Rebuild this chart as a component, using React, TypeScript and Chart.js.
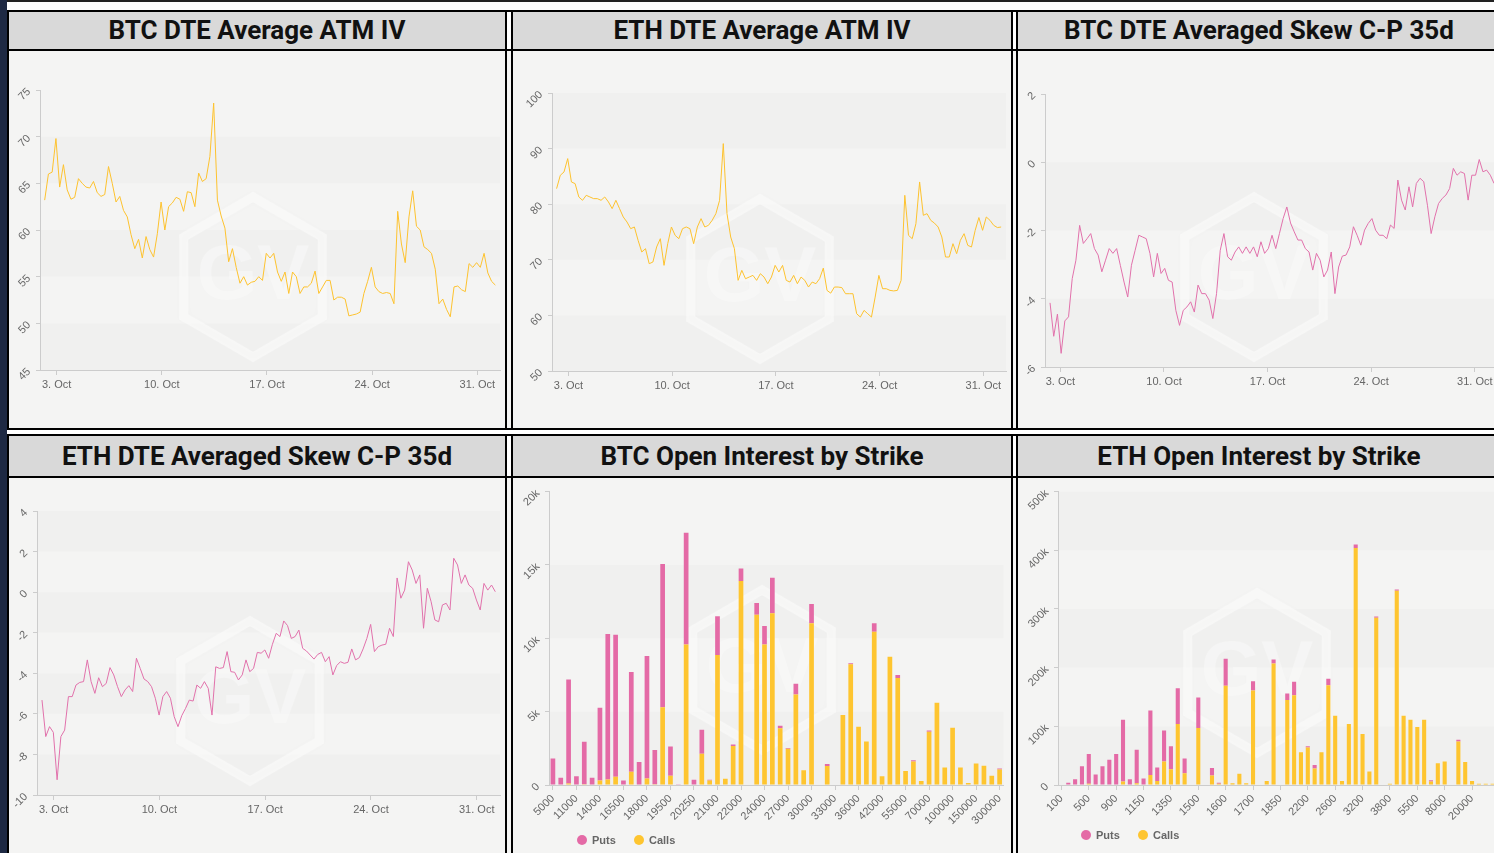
import React, { useEffect, useRef } from 'react';
import { Chart, registerables } from 'chart.js';

Chart.register(...registerables);

// ---------------- data ----------------
const dayTickValues = [3, 10, 17, 24, 31];
const dayTickLabels = ['3. Oct', '10. Oct', '17. Oct', '24. Oct', '31. Oct'];
const sampleStepDays = 0.25;

const btcIvStartDay = 2.2;
const btcIv = [
  63.2, 66.0, 66.2, 69.8, 64.6, 67.0, 64.3, 63.3, 63.5, 65.5,
  65.0, 64.6, 64.5, 65.2, 64.0, 63.6, 63.8, 66.8, 65.0, 63.0,
  63.6, 62.1, 61.4, 59.5, 58.0, 59.0, 57.0, 59.3, 57.9, 57.1,
  59.6, 63.0, 60.0, 62.5, 62.9, 63.5, 63.3, 62.0, 64.1, 64.0,
  62.5, 66.1, 65.2, 65.5, 67.9, 73.6, 63.2, 61.5, 60.2, 56.6,
  58.0, 56.0, 54.3, 55.0, 54.1, 54.4, 54.5, 55.0, 54.6, 57.5,
  57.0, 57.5, 55.5, 54.5, 55.5, 53.2, 55.5, 55.0, 53.2, 53.9,
  53.9, 54.3, 55.6, 53.2, 53.9, 54.6, 54.6, 52.5, 52.8, 52.8,
  52.6, 50.8, 50.9, 51.0, 51.2, 53.2, 54.5, 56.0, 53.9, 53.4,
  53.2, 53.3, 53.2, 52.1, 62.0, 58.5, 56.5, 61.4, 64.2, 60.4,
  60.0, 58.2, 57.9, 57.5, 55.8, 52.1, 52.6, 51.5, 50.7, 53.9,
  54.0, 53.6, 53.4, 56.4, 56.0, 56.5, 56.0, 57.5, 55.4, 54.5,
  54.1,
];

const ethIvStartDay = 2.2;
const ethIv = [
  82.8, 85.2, 85.8, 88.2, 84.0, 83.7, 81.3, 80.7, 81.6, 81.3,
  81.0, 81.0, 80.7, 81.3, 80.4, 79.2, 80.7, 79.2, 77.7, 76.8,
  75.6, 75.9, 73.5, 71.4, 72.0, 69.3, 69.6, 72.3, 73.8, 69.0,
  72.9, 75.9, 74.4, 73.8, 75.6, 75.9, 75.6, 72.9, 75.9, 77.4,
  75.9, 76.2, 77.1, 78.3, 80.7, 90.9, 78.3, 74.1, 72.0, 66.3,
  68.1, 66.6, 66.9, 67.2, 66.3, 67.5, 66.9, 65.7, 66.9, 69.0,
  67.8, 69.0, 66.3, 66.0, 67.2, 65.7, 66.9, 66.3, 65.1, 66.0,
  65.7, 66.6, 68.5, 64.5, 64.0, 65.1, 65.1, 65.0, 63.9, 63.9,
  63.9, 60.3, 59.7, 60.9, 60.3, 59.7, 63.3, 67.2, 64.8, 64.8,
  64.5, 64.4, 64.5, 66.3, 81.6, 74.4, 73.8, 76.5, 84.0, 78.0,
  78.3, 77.1, 76.6, 75.9, 74.1, 70.5, 70.5, 72.9, 71.1, 73.5,
  74.7, 72.6, 72.3, 75.3, 77.6, 75.3, 77.7, 77.1, 76.2, 75.8,
  75.9,
];

const btcSkewStartDay = 2.3;
const btcSkew = [
  -4.12, -5.1, -4.45, -5.6, -4.65, -4.53, -3.41, -2.87, -1.85, -2.38,
  -2.24, -2.09, -2.53, -2.72, -3.21, -2.87, -2.53, -2.67, -2.53, -3.02,
  -3.51, -3.95, -3.02, -2.58, -2.14, -2.19, -2.24, -2.67, -3.36, -2.67,
  -3.26, -3.11, -3.46, -3.51, -4.34, -4.78, -4.34, -4.24, -4.09, -4.39,
  -3.6, -3.85, -3.85, -4.04, -4.58, -3.85, -2.58, -2.09, -2.77, -2.87,
  -2.63, -2.48, -2.67, -2.48, -2.67, -2.48, -2.77, -2.33, -2.67, -2.53,
  -2.14, -2.53, -2.09, -1.65, -1.31, -1.78, -2.04, -2.28, -2.28, -2.53,
  -2.63, -3.16, -2.67, -2.87, -3.36, -3.16, -2.63, -3.85, -3.07, -2.75,
  -2.72, -2.48, -1.89, -2.14, -2.43, -1.99, -1.79, -1.65, -1.99, -2.14,
  -2.14, -2.24, -1.84, -1.94, -0.52, -1.11, -1.4, -0.72, -1.31, -0.62,
  -0.47, -0.57, -1.26, -2.09, -1.6, -1.21, -1.06, -0.96, -0.77, -0.18,
  -0.38, -0.28, -0.33, -1.11, -0.38, -0.38, 0.08, -0.28, -0.23, -0.38,
  -0.62,
];

const ethSkewStartDay = 2.23;
const ethSkew = [
  -5.32, -7.12, -6.63, -6.91, -9.25, -7.12, -6.8, -5.15, -5.15, -4.58,
  -4.45, -4.41, -3.34, -4.41, -4.99, -4.22, -4.66, -4.5, -3.72, -4.08,
  -4.66, -5.15, -4.82, -4.61, -4.9, -3.26, -3.76, -4.28, -4.41, -4.66,
  -5.23, -6.06, -5.15, -4.9, -5.23, -6.14, -6.63, -6.09, -5.73, -5.32,
  -5.37, -4.58, -4.74, -4.41, -4.74, -6.06, -3.68, -3.76, -3.72, -2.93,
  -3.92, -3.95, -4.33, -4.08, -3.34, -3.92, -3.76, -2.97, -3.01, -2.85,
  -3.26, -2.57, -2.03, -2.19, -1.42, -1.65, -2.28, -2.19, -1.87, -2.77,
  -2.9, -3.1, -3.3, -3.07, -2.97, -3.43, -3.18, -4.08, -3.62, -3.43,
  -3.51, -3.46, -2.8, -3.34, -3.23, -2.8, -2.28, -1.59, -2.93, -2.69,
  -2.61, -2.57, -1.78, -2.19, 0.7, -0.3, 0.1, 1.5, 1.09, 0.43,
  0.85, -1.78, 0.19, -0.47, -1.37, -1.46, -0.63, -0.55, -0.88, 1.67,
  1.34, 0.43, 0.85, 0.35, 0.19, -0.39, -0.88, 0.43, 0.1, 0.35,
  0.02,
];

const btcStrikes = [
  '5000', '8000', '10000', '11000', '12000', '13000', '14000', '15000', '16000', '16500',
  '17000', '17500', '18000', '18500', '19000', '19500', '19750', '20000', '20250', '20500',
  '20750', '21000', '21250', '21500', '22000', '22500', '23000', '24000', '25000', '26000',
  '27000', '28000', '29000', '30000', '31000', '32000', '33000', '34000', '35000', '36000',
  '38000', '40000', '42000', '45000', '50000', '55000', '60000', '65000', '70000', '80000',
  '90000', '100000', '120000', '140000', '150000', '200000', '250000', '300000',
];
const btcCalls = [
  0, 0, 100, 0, 50, 0, 300, 380, 560, 0,
  900, 0, 450, 50, 5300, 630, 0, 9570, 0, 2130,
  300, 8860, 430, 2650, 13900, 0, 11600, 9570, 11700, 3860,
  2470, 6170, 1000, 11030, 0, 1300, 0, 4780, 8230, 3970,
  2960, 10450, 600, 8740, 7300, 960, 1610, 270, 3630, 5600,
  1190, 3900, 1190, 130, 1460, 1320, 630, 1050,
];
const btcPuts = [
  1800, 500, 7100, 600, 2900, 500, 4970, 9920, 9690, 300,
  6800, 1570, 8350, 2330, 9770, 1990, 50, 7630, 360, 1640,
  60, 2640, 0, 110, 850, 0, 800, 1260, 2430, 180,
  60, 730, 0, 1300, 0, 130, 0, 0, 70, 0,
  0, 580, 0, 0, 190, 0, 70, 0, 90, 0,
  0, 0, 0, 0, 0, 0, 0, 70,
];

const ethStrikes = [
  '100', '200', '300', '400', '500', '600', '700', '800', '900', '1000',
  '1050', '1100', '1150', '1200', '1250', '1300', '1350', '1400', '1450', '1475',
  '1500', '1525', '1550', '1575', '1600', '1625', '1650', '1675', '1700', '1725',
  '1750', '1800', '1850', '1900', '2000', '2100', '2200', '2300', '2400', '2500',
  '2600', '2700', '2800', '3000', '3200', '3400', '3500', '3600', '3800', '4000',
  '4500', '5000', '5500', '6000', '6500', '7000', '8000', '9000', '10000', '15000',
  '20000', '25000', '30000', '40000',
];
const ethCalls = [
  0, 0, 0, 0, 2000, 0, 0, 0, 0, 6000,
  0, 3000, 0, 17000, 7000, 40000, 27000, 104000, 20000, 0,
  97000, 0, 16000, 2000, 169000, 3000, 19000, 3000, 161000, 1000,
  7000, 207000, 0, 145000, 153000, 56000, 64000, 28000, 56000, 170000,
  118000, 7000, 104000, 404000, 87000, 23000, 285000, 1000, 2000, 331000,
  118000, 111000, 99000, 111000, 6000, 37000, 40000, 1000, 74000, 39000,
  7000, 2000, 2000, 2000,
];
const ethPuts = [
  0, 4000, 10000, 32000, 51000, 18000, 32000, 43000, 53000, 105000,
  10000, 57000, 11000, 110000, 23000, 53000, 39000, 61000, 25000, 1000,
  52000, 1000, 13000, 2000, 46000, 0, 0, 0, 16000, 0,
  0, 7000, 0, 11000, 23000, 0, 2000, 6000, 0, 11000,
  0, 0, 0, 6000, 0, 0, 2000, 0, 0, 2000,
  0, 0, 0, 0, 2000, 0, 0, 0, 3000, 0,
  0, 0, 0, 0,
];

// ---------------- styles ----------------
const IV_COLOR = '#fdc22e';
const SKEW_COLOR = '#e171ab';
const CALLS_COLOR = '#fec530';
const PUTS_COLOR = '#e46aa6';
const TICK_FONT = { family: '"Liberation Sans", Arial, sans-serif', size: 11 };
const TICK_COLOR = '#666666';
const AXIS_COLOR = '#cccccc';

const bgPlugin = {
  id: 'bgBands',
  beforeDraw(chart: any, _args: any, opts: any) {
    const { ctx, chartArea } = chart;
    const y = chart.scales.y;
    const vals = y.ticks.map((t: any) => t.value).sort((a: number, b: number) => a - b);
    ctx.save();
    ctx.fillStyle = 'rgba(0,0,0,0.014)';
    for (let k = 0; k < vals.length - 1; k += 2) {
      const y0 = y.getPixelForValue(vals[k]);
      const y1 = y.getPixelForValue(vals[k + 1]);
      ctx.fillRect(chartArea.left, Math.min(y0, y1), chartArea.right - chartArea.left, Math.abs(y1 - y0));
    }
    // watermark
    const cx = opts.cx;
    const cy = opts.cy;
    const hex = (r: number) => {
      ctx.beginPath();
      for (let i = 0; i < 6; i++) {
        const a = ((-90 + 60 * i) * Math.PI) / 180;
        const px = cx + r * Math.cos(a);
        const py = cy + r * Math.sin(a);
        if (i === 0) ctx.moveTo(px, py);
        else ctx.lineTo(px, py);
      }
      ctx.closePath();
    };
    ctx.shadowColor = 'rgba(0,0,0,0.03)';
    ctx.shadowBlur = 6;
    hex(80);
    ctx.lineWidth = 9;
    ctx.strokeStyle = 'rgba(255,255,255,0.45)';
    ctx.stroke();
    ctx.font = 'bold 78px "Liberation Sans", Arial, sans-serif';
    ctx.textAlign = 'center';
    ctx.textBaseline = 'middle';
    ctx.fillStyle = 'rgba(255,255,255,0.3)';
    ctx.fillText('GV', cx, cy);
    ctx.restore();
  },
};

function lineConfig(p: any) {
  const values: number[] = p.values;
  return {
    type: 'line',
    data: {
      datasets: [
        {
          data: values.map((v, i) => ({ x: p.start + i * sampleStepDays, y: v })),
          borderColor: p.color,
          borderWidth: 1,
          pointRadius: 0,
          fill: false,
          tension: 0,
        },
      ],
    },
    options: {
      animation: false,
      responsive: false,
      devicePixelRatio: 1,
      layout: { padding: { left: 0, right: p.R, top: p.T, bottom: p.B } },
      plugins: { legend: { display: false }, tooltip: { enabled: false }, bgBands: { cx: p.cx, cy: p.cy } },
      scales: {
        x: {
          type: 'linear',
          min: p.xMin,
          max: p.xMax,
          afterBuildTicks: (s: any) => {
            s.ticks = dayTickValues.map((v) => ({ value: v }));
          },
          afterFit: (s: any) => {
            s.height = 30;
          },
          ticks: {
            autoSkip: false,
            minRotation: 0,
            maxRotation: 0,
            font: TICK_FONT,
            color: TICK_COLOR,
            padding: 3,
            callback: (v: number) => {
              const i = dayTickValues.indexOf(v);
              return i >= 0 ? dayTickLabels[i] : '';
            },
          },
          grid: { drawOnChartArea: false, tickLength: 5, color: AXIS_COLOR },
          border: { color: AXIS_COLOR },
        },
        y: {
          min: p.yMin,
          max: p.yMax,
          afterFit: (s: any) => {
            s.width = p.L;
          },
          ticks: {
            stepSize: p.yStep,
            font: TICK_FONT,
            color: TICK_COLOR,
            minRotation: 45,
            maxRotation: 45,
            padding: 7,
          },
          grid: { drawOnChartArea: false, tickLength: 4, color: AXIS_COLOR },
          border: { color: AXIS_COLOR },
        },
      },
    },
    plugins: [bgPlugin],
  };
}

function barConfig(p: any) {
  return {
    type: 'bar',
    data: {
      labels: p.labels,
      datasets: [
        { label: 'Calls', data: p.calls, backgroundColor: CALLS_COLOR, barPercentage: 0.6, categoryPercentage: 1 },
        { label: 'Puts', data: p.puts, backgroundColor: PUTS_COLOR, barPercentage: 0.6, categoryPercentage: 1 },
      ],
    },
    options: {
      animation: false,
      responsive: false,
      devicePixelRatio: 1,
      layout: { padding: { left: 0, right: p.R, top: p.T, bottom: p.B } },
      plugins: { legend: { display: false }, tooltip: { enabled: false }, bgBands: { cx: p.cx, cy: p.cy } },
      scales: {
        x: {
          stacked: true,
          offset: true,
          afterBuildTicks: (s: any) => {
            s.ticks = s.ticks.filter((t: any) => t.value % p.every === 0);
          },
          afterFit: (s: any) => {
            s.height = 45;
          },
          ticks: {
            autoSkip: false,
            minRotation: 45,
            maxRotation: 45,
            font: TICK_FONT,
            color: TICK_COLOR,
            padding: 2,
          },
          grid: { offset: false, drawOnChartArea: false, tickLength: 5, color: AXIS_COLOR },
          border: { color: AXIS_COLOR },
        },
        y: {
          stacked: true,
          min: 0,
          max: p.yMax,
          afterFit: (s: any) => {
            s.width = p.L;
          },
          ticks: {
            stepSize: p.yStep,
            font: TICK_FONT,
            color: TICK_COLOR,
            minRotation: 45,
            maxRotation: 45,
            padding: 7,
            callback: (v: number) => (v === 0 ? '0' : v / 1000 + 'k'),
          },
          grid: { drawOnChartArea: false, tickLength: 4, color: AXIS_COLOR },
          border: { color: AXIS_COLOR },
        },
      },
    },
    plugins: [bgPlugin],
  };
}

function ChartCanvas({ left, top, width, height, make }: any) {
  const ref = useRef<HTMLCanvasElement | null>(null);
  useEffect(() => {
    const chart = new Chart(ref.current as any, make() as any);
    return () => chart.destroy();
  }, []);
  return (
    <canvas
      ref={ref}
      width={width}
      height={height}
      style={{ position: 'absolute', left, top, width, height, display: 'block' }}
    />
  );
}

function Rect({ l, t, w, h, c }: any) {
  return <div style={{ position: 'absolute', left: l, top: t, width: w, height: h, background: c }} />;
}

function Title({ l, t, w, h, text }: any) {
  return (
    <div
      style={{
        position: 'absolute',
        left: l,
        top: t,
        width: w,
        height: h,
        lineHeight: h + 'px',
        background: '#d9d9d9',
        textAlign: 'center',
        fontFamily: 'Roboto, "Liberation Sans", sans-serif',
        fontWeight: 700,
        fontSize: 26,
        color: '#111',
        whiteSpace: 'nowrap',
        overflow: 'hidden',
      }}
    >
      {text}
    </div>
  );
}

function Legend({ l, t }: any) {
  const item = (color: string, label: string, dx: number) => (
    <div style={{ position: 'absolute', left: dx, top: 0, height: 12, display: 'flex', alignItems: 'center' }}>
      <div style={{ width: 10, height: 10, borderRadius: 5, background: color, marginRight: 5 }} />
      <span
        style={{
          fontFamily: '"Liberation Sans", Arial, sans-serif',
          fontWeight: 700,
          fontSize: 11,
          color: '#666',
        }}
      >
        {label}
      </span>
    </div>
  );
  return (
    <div style={{ position: 'absolute', left: l, top: t, width: 120, height: 12 }}>
      {item(PUTS_COLOR, 'Puts', 0)}
      {item(CALLS_COLOR, 'Calls', 0 + 57)}
    </div>
  );
}

export default function App() {
  useEffect(() => {
    document.body.style.margin = '0';
  }, []);
  const hl = [10, 49, 428, 434, 476];
  const vx = [7, 505, 511, 1011, 1016, 1500];
  return (
    <div
      style={{
        position: 'fixed',
        left: 0,
        top: 0,
        width: 1494,
        height: 853,
        overflow: 'hidden',
        background: '#ffffff',
      }}
    >
      <Rect l={7} t={51} w={1487} h={379} c="#f4f4f3" />
      <Rect l={7} t={478} w={1487} h={375} c="#f4f4f3" />
      <Title l={9} t={12} w={496} h={37} text="BTC DTE Average ATM IV" />
      <Title l={513} t={12} w={498} h={37} text="ETH DTE Average ATM IV" />
      <Title l={1018} t={12} w={482} h={37} text="BTC DTE Averaged Skew C-P 35d" />
      <Title l={9} t={436} w={496} h={40} text="ETH DTE Averaged Skew C-P 35d" />
      <Title l={513} t={436} w={498} h={40} text="BTC Open Interest by Strike" />
      <Title l={1018} t={436} w={482} h={40} text="ETH Open Interest by Strike" />
      {hl.map((y) => (
        <Rect key={'h' + y} l={7} t={y} w={1487} h={2} c="#000" />
      ))}
      {vx.map((x) => (
        <React.Fragment key={'v' + x}>
          <Rect l={x} t={10} w={2} h={420} c="#000" />
          <Rect l={x} t={434} w={2} h={419} c="#000" />
        </React.Fragment>
      ))}
      <Rect l={0} t={0} w={1494} h={2} c="#222" />
      <Rect l={0} t={0} w={7} h={853} c="#1e2943" />

      <ChartCanvas
        left={9}
        top={51}
        width={496}
        height={377}
        make={() =>
          lineConfig({
            start: btcIvStartDay, values: btcIv, color: IV_COLOR,
            yMin: 45, yMax: 75, yStep: 5, xMin: 1.89, xMax: 32.51,
            L: 31, R: 5, T: 39, B: 28, cx: 244, cy: 226,
          })
        }
      />
      <ChartCanvas
        left={513}
        top={51}
        width={498}
        height={377}
        make={() =>
          lineConfig({
            start: ethIvStartDay, values: ethIv, color: IV_COLOR,
            yMin: 50, yMax: 100, yStep: 10, xMin: 1.89, xMax: 32.53,
            L: 39, R: 5, T: 42, B: 27, cx: 247, cy: 228,
          })
        }
      />
      <ChartCanvas
        left={1018}
        top={51}
        width={482}
        height={377}
        make={() =>
          lineConfig({
            start: btcSkewStartDay, values: btcSkew, color: SKEW_COLOR,
            yMin: -6, yMax: 2, yStep: 2, xMin: 1.96, xMax: 32.5,
            L: 27, R: 3, T: 43, B: 31, cx: 236, cy: 226,
          })
        }
      />
      <ChartCanvas
        left={9}
        top={478}
        width={496}
        height={375}
        make={() =>
          lineConfig({
            start: ethSkewStartDay, values: ethSkew, color: SKEW_COLOR,
            yMin: -10, yMax: 4, yStep: 2, xMin: 1.9, xMax: 32.54,
            L: 28, R: 5, T: 33, B: 28, cx: 241, cy: 223,
          })
        }
      />
      <ChartCanvas
        left={513}
        top={478}
        width={498}
        height={375}
        make={() =>
          barConfig({
            labels: btcStrikes, calls: btcCalls, puts: btcPuts, every: 3,
            yMax: 20000, yStep: 5000, L: 36, R: 6, T: 9, B: 23, cx: 249, cy: 192,
          })
        }
      />
      <ChartCanvas
        left={1018}
        top={478}
        width={482}
        height={375}
        make={() =>
          barConfig({
            labels: ethStrikes, calls: ethCalls, puts: ethPuts, every: 4,
            yMax: 500000, yStep: 100000, L: 40, R: 4, T: 13, B: 23, cx: 239, cy: 195,
          })
        }
      />
      <Legend l={577} t={834} />
      <Legend l={1081} t={829} />
    </div>
  );
}
